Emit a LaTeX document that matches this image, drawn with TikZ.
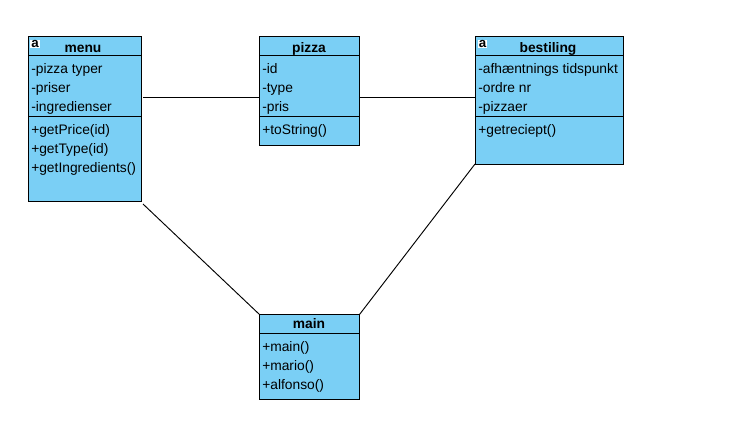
\documentclass[tikz,border=0pt]{standalone}
\usepackage{fontspec}
\setmainfont{Liberation Sans}
\usetikzlibrary{positioning}
\definecolor{classblue}{HTML}{7ACFF5}
\tikzset{
    classbox/.style = {draw, line width = 0.75pt, fill = classblue, anchor = north west, inner sep = 0pt, outer sep = 0pt},
    classname/.style = {font = \fontsize{10.35}{12}\selectfont\bfseries, anchor = base, inner sep = 0pt},
    member/.style = {font = \fontsize{10.35}{12}\selectfont, anchor = base west, inner sep = 0pt},
    abstractmark/.style = {fill = white, font = \fontsize{10}{10}\selectfont\bfseries, inner sep = 0.6pt},
    link/.style = {line width = 0.7pt, black}
}
\begin{document}
\begin{tikzpicture}[x = 0.75pt, y = -0.75pt]
    \useasboundingbox (0,0) rectangle (748,432);

    % class boxes
    \node [classbox, minimum width = 84.4pt, minimum height = 123.75pt] (menu) at (28.5,36.5) {};
    \node [classbox, minimum width = 75pt, minimum height = 81.75pt] (pizza) at (259.5,36.5) {};
    \node [classbox, minimum width = 111pt, minimum height = 96pt] (bestiling) at (475.5,36.5) {};
    \node [classbox, minimum width = 75pt, minimum height = 63.75pt] (main) at (259.5,314.5) {};

    % compartments
    \foreach \c in {menu, pizza, bestiling} {
        \draw [line width = 0.7pt] (\c.west |- 0,55) -- (\c.east |- 0,55);
        \draw [line width = 0.7pt] (\c.west |- 0,116) -- (\c.east |- 0,116);
    }
    \draw [line width = 0.7pt] (main.west |- 0,333) -- (main.east |- 0,333);

    % names
    \node [classname] (menuname) at (83,52) {menu};
    \node [classname] (pizzaname) at (309,52) {pizza};
    \node [classname] (bestilingname) at (548,52) {bestiling};
    \node [classname] (mainname) at (309,328) {main};
    \node [abstractmark] (menumark) at (35,44) {a};
    \node [abstractmark] (bestilingmark) at (482.5,44) {a};

    % members
    \foreach \t/\y [count=\i] in {-pizza typer/73, -priser/92, -ingredienser/111, +getPrice(id)/134, +getType(id)/153, +getIngredients()/172} {
        \node [member] (menu\i) at (31,\y) {\t};
    }
    \foreach \t/\y [count=\i] in {-id/73, -type/92, -pris/111, +toString()/134} {
        \node [member] (pizza\i) at (262,\y) {\t};
    }
    \foreach \t/\y [count=\i] in {-afhæntnings tidspunkt/73, -ordre nr/92, -pizzaer/111, +getreciept()/134} {
        \node [member] (bestiling\i) at (478,\y) {\t};
    }
    \foreach \t/\y [count=\i] in {+main()/351, +mario()/370, +alfonso()/389} {
        \node [member] (main\i) at (262,\y) {\t};
    }

    % connectors
    \coordinate (menuend) at (143,97);
    \coordinate (menucorner) at (143,204);
    \coordinate (bestilingcorner) at (475,164);
    \draw [link] (menuend) -- (pizza.west |- menuend);
    \draw [link] (pizza.east |- menuend) -- (bestiling.west |- menuend);
    \draw [link] (menucorner) -- (main.north west);
    \draw [link] (bestilingcorner) -- (main.north east);
\end{tikzpicture}
\end{document}
